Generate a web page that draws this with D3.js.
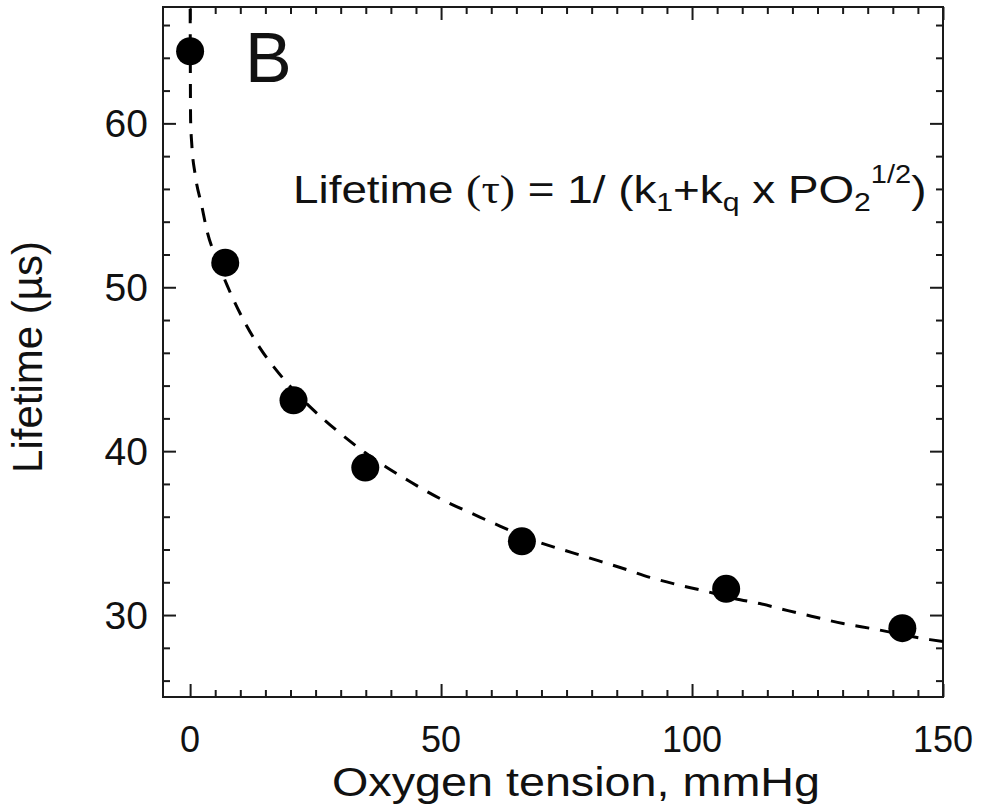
<!DOCTYPE html>
<html>
<head>
<meta charset="utf-8">
<script src="https://cdn.jsdelivr.net/npm/d3@7/dist/d3.min.js"></script>
<style>
  html, body { margin: 0; padding: 0; background: #fff; }
  svg { display: block; }
  text { font-family: "Liberation Sans", Arial, Helvetica, sans-serif; fill: #111; }
</style>
</head>
<body>
<svg id="chart" width="982" height="804"></svg>
<script>
// Measured phosphorescence lifetime vs oxygen tension
const po2 = [0, 7.0, 20.6, 34.9, 66.1, 106.8, 141.9];
const lifetime = [64.4, 51.5, 43.1, 39.0, 34.5, 31.6, 29.2];

// Fitted curve, tau = 1/(k1 + kq * PO2^(1/2))
const fitPO2 = [0, 0.1, 0.34, 1.0, 2.3, 3.4, 5.3, 7.4, 13.9, 16.9, 19.5, 23.9, 26.9, 30.9, 34.9,
  39.2, 42.8, 47.4, 51.8, 56.2, 61.2, 70.3, 76.1, 81.3, 86.3, 91.6, 97.0, 102.2, 108.6, 113.5,
  119.1, 124.9, 130.1, 135.9, 147.4, 150.2];
const fitLifetime = [68.5, 60.2, 58.7, 56.9, 55.0, 53.4, 51.7, 50.1, 46.3, 45.05, 44.1, 42.7, 41.87, 40.84, 39.9,
  39.0, 38.33, 37.5, 36.8, 36.19, 35.5, 34.36, 33.81, 33.32, 32.84, 32.3, 31.86, 31.49, 31.0, 30.7,
  30.27, 29.85, 29.48, 29.17, 28.5, 28.38];

// Axis ticks
const xMajorTicks = [0, 50, 100, 150];
const xMinorTicks = d3.range(0, 151, 5);
const yMajorTicks = [30, 40, 50, 60];
const yMinorTicks = d3.range(26, 67, 2);

const svg = d3.select("#chart");
const plot = { left: 163, right: 943, top: 7, bottom: 697 };

const x = d3.scaleLinear().domain([-5.4, 150]).range([plot.left, plot.right]);
const y = d3.scaleLinear().domain([25, 67.1]).range([plot.bottom, plot.top]);

svg.append("defs").append("clipPath").attr("id", "plotClip")
  .append("rect")
  .attr("x", plot.left).attr("y", plot.top)
  .attr("width", plot.right - plot.left).attr("height", plot.bottom - plot.top);

// Ticks on all four sides, pointing inward
function drawTicks(axisGen, transform, values, size) {
  svg.append("g")
    .attr("transform", transform)
    .call(axisGen.tickValues(values).tickSize(size).tickFormat(""))
    .call(g => g.select(".domain").remove())
    .call(g => g.selectAll("line").attr("stroke", "#1a1a1a").attr("stroke-width", 2));
}
const minorX = xMinorTicks.filter(v => !xMajorTicks.includes(v));
const minorY = yMinorTicks.filter(v => !yMajorTicks.includes(v));

drawTicks(d3.axisTop(x), `translate(0,${plot.bottom})`, minorX, 7);
drawTicks(d3.axisTop(x), `translate(0,${plot.bottom})`, xMajorTicks, 13);
drawTicks(d3.axisBottom(x), `translate(0,${plot.top})`, minorX, 7);
drawTicks(d3.axisBottom(x), `translate(0,${plot.top})`, xMajorTicks, 13);
drawTicks(d3.axisRight(y), `translate(${plot.left},0)`, minorY, 7);
drawTicks(d3.axisRight(y), `translate(${plot.left},0)`, yMajorTicks, 13);
drawTicks(d3.axisLeft(y), `translate(${plot.right},0)`, minorY, 7);
drawTicks(d3.axisLeft(y), `translate(${plot.right},0)`, yMajorTicks, 13);

// Frame
svg.append("rect")
  .attr("x", plot.left).attr("y", plot.top)
  .attr("width", plot.right - plot.left).attr("height", plot.bottom - plot.top)
  .attr("fill", "none").attr("stroke", "#1a1a1a").attr("stroke-width", 2);

// Tick labels
svg.append("g").selectAll("text").data(xMajorTicks).join("text")
  .attr("x", d => x(d)).attr("y", 752)
  .attr("text-anchor", "middle")
  .attr("font-size", 36)
  .text(d => d);

svg.append("g").selectAll("text").data(yMajorTicks).join("text")
  .attr("x", 148).attr("y", d => y(d) + 14)
  .attr("text-anchor", "end")
  .attr("font-size", 39)
  .text(d => d);

// Axis titles
svg.append("text")
  .attr("x", 576).attr("y", 796)
  .attr("text-anchor", "middle")
  .attr("font-size", 40)
  .attr("textLength", 488)
  .attr("lengthAdjust", "spacingAndGlyphs")
  .text("Oxygen tension, mmHg");

svg.append("text")
  .attr("transform", "translate(42,357) rotate(-90)")
  .attr("text-anchor", "middle")
  .attr("font-size", 42)
  .text("Lifetime (\u00b5s)");

// Fitted curve
const line = d3.line()
  .x((d, i) => x(fitPO2[i]))
  .y(d => y(d))
  .curve(d3.curveMonotoneX);

svg.append("path")
  .datum(fitLifetime)
  .attr("clip-path", "url(#plotClip)")
  .attr("d", line)
  .attr("fill", "none")
  .attr("stroke", "#000")
  .attr("stroke-width", 3)
  .attr("stroke-dasharray", "14,11");

// Measured points
svg.append("g").selectAll("circle").data(lifetime).join("circle")
  .attr("cx", (d, i) => x(po2[i]))
  .attr("cy", d => y(d))
  .attr("r", 14)
  .attr("fill", "#000");

// Panel letter
svg.append("text")
  .attr("x", 245).attr("y", 82)
  .attr("font-size", 70)
  .text("B");

// Model equation (set slightly wide)
const eq = svg.append("g")
  .attr("transform", "translate(293,203) scale(1.16,1)")
  .append("text")
  .attr("x", 0).attr("y", 0)
  .attr("font-size", 39.5);
eq.append("tspan").text("Lifetime ");
eq.append("tspan").attr("font-family", "'Liberation Serif', 'Times New Roman', serif").text("(\u03c4)");
eq.append("tspan").text(" = 1/ (k");
eq.append("tspan").attr("font-size", 26).attr("dy", 8).text("1");
eq.append("tspan").attr("dy", -8).text("+k");
eq.append("tspan").attr("font-size", 26).attr("dy", 8).text("q");
eq.append("tspan").attr("dy", -8).text(" x PO");
eq.append("tspan").attr("font-size", 26).attr("dy", 8).text("2");
eq.append("tspan").attr("font-size", 25).attr("dy", -28).text("1/2");
eq.append("tspan").attr("dy", 20).text(")");
</script>
</body>
</html>
